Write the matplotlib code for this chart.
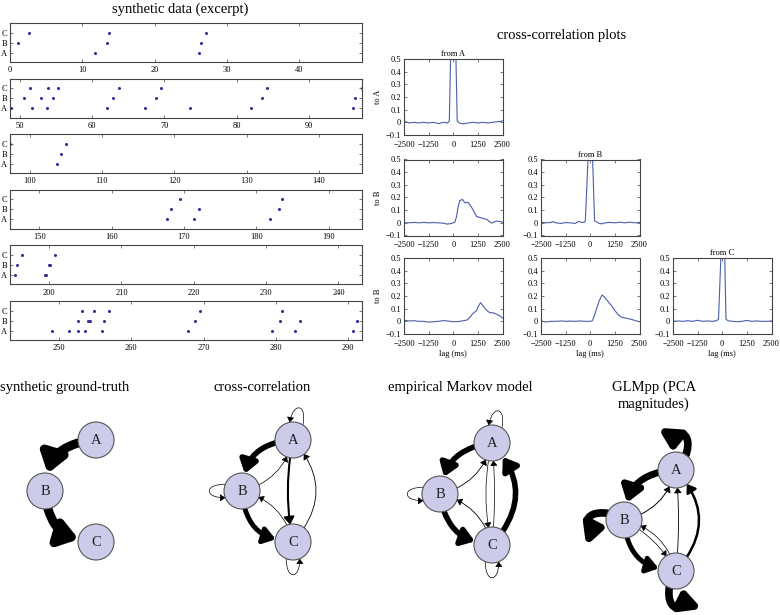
import numpy as np
import matplotlib
matplotlib.use('Agg')
import matplotlib.pyplot as plt
from matplotlib.patches import Circle, FancyArrowPatch, ArrowStyle
from matplotlib.path import Path

plt.rcParams['font.family'] = 'Liberation Serif'

# ---- spike raster (s) ----
win = 48.65
npanel = 6
spk_A = [11.8, 26.1, 48.8, 51.7, 53.75, 62.0, 67.3, 73.55, 82.0, 96.0, 103.8,
         167.7, 171.35, 181.9, 195.25, 199.5, 199.6, 249.0, 251.35, 252.65,
         253.55, 256.0, 267.9, 279.4, 282.7, 290.65]
spk_B = [1.15, 13.35, 26.45, 50.6, 53.0, 54.6, 62.9, 68.8, 83.45, 96.4, 104.4,
         168.2, 172.1, 183.1, 195.55, 200.0, 200.15, 252.7, 254.05, 254.35,
         256.3, 268.85, 280.6, 283.4, 291.2]
spk_C = [2.65, 13.7, 27.05, 51.35, 53.95, 55.25, 63.7, 69.5, 84.2, 97.35,
         105.05, 169.45, 183.6, 196.25, 200.85, 253.2, 254.85, 256.95, 269.5,
         280.9]
neurons = ['A', 'B', 'C']

# ---- cross-correlations (lag ms, value) ----
lag_AA = [-2500, -2250, -2000, -1750, -1500, -1250, -1000, -750, -500, -300,
          -200, -130, -60, 0, 60, 130, 200, 300, 500, 750, 1000, 1250, 1500,
          1750, 2000, 2250, 2500]
cc_AA = [0.01, -0.005, 0.0, -0.005, 0.0, -0.005, 0.0, -0.01, 0.0, -0.005,
         0.01, 0.55, 0.9, 1.0, 0.9, 0.55, 0.01, -0.005, -0.012, -0.005, 0.0,
         -0.005, 0.0, -0.005, 0.0, 0.005, 0.01]
lag_AB = [-2500, -2250, -2000, -1750, -1500, -1250, -1000, -750, -500, -300,
          -100, 0, 80, 160, 245, 330, 470, 560, 610, 700, 760, 900, 1050, 1180,
          1400, 1690, 1850, 1940, 2050, 2200, 2350, 2500]
cc_AB = [0.0, 0.0, 0.003, 0.0, 0.003, 0.0, 0.002, 0.0, -0.003, -0.01, -0.005,
         0.0, 0.005, 0.045, 0.125, 0.175, 0.185, 0.165, 0.157, 0.162, 0.16,
         0.13, 0.09, 0.05, 0.04, 0.027, 0.01, -0.002, 0.005, 0.014, 0.01, 0.005]
lag_BB = [-2500, -2250, -2000, -1900, -1750, -1500, -1250, -1000, -750, -600,
          -450, -300, -250, -100, -40, 0, 50, 110, 220, 300, 450, 600, 750,
          1000, 1250, 1500, 1750, 2000, 2250, 2500]
cc_BB = [0.005, 0.0, 0.003, 0.01, 0.0, -0.005, 0.002, 0.0, -0.005, 0.012,
         0.003, 0.005, 0.015, 0.55, 0.9, 1.0, 0.9, 0.55, 0.015, 0.01, -0.005,
         -0.008, 0.0, 0.003, 0.0, 0.005, 0.0, 0.005, 0.0, 0.003]
lag_AC = [-2500, -2250, -2000, -1750, -1500, -1250, -1000, -750, -500, -250, 0,
          250, 500, 700, 840, 1000, 1180, 1300, 1380, 1480, 1600, 1750, 1860,
          2000, 2110, 2280, 2400, 2500]
cc_AC = [0.008, 0.003, 0.005, 0.0, 0.0, -0.006, -0.003, 0.0, 0.006, 0.002,
         -0.003, -0.002, 0.005, 0.01, 0.03, 0.062, 0.084, 0.125, 0.147, 0.13,
         0.103, 0.08, 0.068, 0.068, 0.063, 0.05, 0.04, 0.025]
lag_BC = [-2500, -2250, -2000, -1750, -1500, -1250, -1000, -750, -500, -250, 0,
          110, 220, 330, 450, 600, 700, 840, 960, 1093, 1250, 1432, 1560, 1686,
          1900, 2100, 2300, 2500]
cc_BC = [0.003, -0.005, 0.0, 0.0, 0.003, 0.0, 0.002, 0.0, 0.003, 0.0, 0.0,
         0.005, 0.05, 0.103, 0.16, 0.208, 0.195, 0.168, 0.145, 0.121, 0.085,
         0.05, 0.035, 0.029, 0.022, 0.015, 0.005, -0.003]
lag_CC = [-2500, -2250, -2000, -1750, -1500, -1250, -1000, -750, -500, -300,
          -190, -60, -20, 30, 70, 120, 190, 300, 500, 750, 1000, 1250, 1500,
          1750, 2000, 2250, 2500]
cc_CC = [0.0, 0.003, 0.0, 0.005, 0.0, 0.008, 0.0, 0.003, 0.0, 0.005, 0.016,
         0.55, 0.9, 1.0, 0.9, 0.55, 0.016, 0.005, 0.0, -0.003, 0.0, 0.007, 0.0,
         0.003, 0.0, 0.0, 0.003]
# (row, col, lags, values, title, ylabel)
cc_panels = [(0, 0, lag_AA, cc_AA, 'from A', 'to A'),
             (1, 0, lag_AB, cc_AB, '', 'to B'),
             (1, 1, lag_BB, cc_BB, 'from B', ''),
             (2, 0, lag_AC, cc_AC, '', 'to B'),
             (2, 1, lag_BC, cc_BC, '', ''),
             (2, 2, lag_CC, cc_CC, 'from C', '')]

# ---- network graphs ----
net_titles = ['synthetic ground-truth', 'cross-correlation',
              'empirical Markov model', 'GLMpp (PCA\nmagnitudes)']
net_title_x = [65, 262, 460, 654]
node_x = [[96, 45, 96], [293, 242, 293], [492, 440, 492], [676, 624, 676]]
node_y = [[440, 491, 542], [440, 491, 542], [443, 494, 545], [470, 520, 571]]
# (from, to, width, curvature)
edges = [
    [(0, 1, 6.5, 0.45), (1, 2, 6.5, 0.45)],
    [(0, 1, 4.0, 0.45), (1, 2, 3.5, 0.45), (0, 2, 1.5, 0.1), (2, 0, 0.6, 0.45),
     (1, 0, 0.5, 0.3), (2, 1, 0.5, 0.3)],
    [(0, 1, 4.0, 0.4), (1, 2, 4.0, 0.4), (2, 0, 4.0, 0.45), (1, 0, 0.6, 0.3),
     (2, 1, 0.6, 0.3), (0, 2, 0.5, 0.12), (2, 0, 0.5, 0.05)],
    [(0, 1, 5.0, 0.45), (1, 2, 3.5, 0.45), (2, 0, 1.8, 0.45), (1, 0, 0.7, 0.3),
     (2, 0, 0.6, 0.05), (1, 2, 0.5, -0.15), (2, 1, 0.5, 0.3)],
]
# self loops: (node, width)
loops = [[],
         [(0, 0.5), (1, 0.5), (2, 0.5)],
         [(0, 0.5), (1, 0.5), (2, 0.5)],
         [(0, 5.5), (1, 5.5), (2, 5.5)]]
loop_dir = [(0.2, -1.0), (-1.0, 0.0), (0.0, 1.0)]

W, H = 780, 615
fig = plt.figure(figsize=(W / 100., H / 100.), dpi=100)

def px_axes(left, top, width, height):
    return fig.add_axes([left / W, 1 - (top + height) / H, width / W, height / H])

edgec = '#444444'

# raster
rtop = [23, 78.6, 134.2, 189.8, 245.4, 301]
for ii in range(npanel):
    ax = px_axes(10, rtop[ii], 352, 39)
    for jj, spk in enumerate([spk_A, spk_B, spk_C]):
        ax.plot(spk, np.full(len(spk), jj + 1), 'o', ms=2.2, color='#2e3192', mec='none')
    x0 = ii * win
    ax.set_xlim(x0, x0 + win)
    ax.set_ylim(0.05, 3.95)
    first = int(np.ceil(x0 / 10.)) * 10
    ax.set_xticks(np.arange(first, x0 + win, 10))
    ax.set_yticks([1, 2, 3])
    ax.set_yticklabels(neurons)
    ax.tick_params(direction='in', top=True, right=True, labelsize=6, length=2.5,
                   width=0.5, pad=2, color='#444444')
    ax.tick_params(axis='x', pad=3)
    for s in ax.spines.values():
        s.set_linewidth(0.8)
        s.set_color(edgec)
fig.text(180 / W, 1 - 9 / H, 'synthetic data (excerpt)', ha='center', va='center', fontsize=10.5)

# cross-correlations
ccol = [404, 541, 673]
crow = [59, 159.5, 258]
for row, col, lg, val, ttl, ylab in cc_panels:
    ax = px_axes(ccol[col], crow[row], 98.5, 76)
    ax.plot(lg, val, '-', color='#4b5dab', lw=0.8)
    ax.set_xlim(-2500, 2500)
    ax.set_ylim(-0.1, 0.5)
    ax.set_xticks([-2500, -1250, 0, 1250, 2500])
    ax.set_yticks([-0.1, 0, 0.1, 0.2, 0.3, 0.4, 0.5])
    ax.set_yticklabels(['\u22120.1', '0', '0.1', '0.2', '0.3', '0.4', '0.5'])
    ax.tick_params(direction='in', top=True, right=True, labelsize=6, length=2.5,
                   width=0.5, pad=2, color='#444444')
    ax.tick_params(axis='x', pad=4)
    for s in ax.spines.values():
        s.set_linewidth(0.8)
        s.set_color(edgec)
    if ttl:
        ax.set_title(ttl, fontsize=6, pad=2)
    if ylab:
        ax.set_ylabel(ylab, fontsize=6, labelpad=3)
    if row == 2:
        ax.set_xlabel('lag (ms)', fontsize=6, labelpad=2)
fig.text(562 / W, 1 - 35 / H, 'cross-correlation plots', ha='center', va='center', fontsize=10.5)

# networks
axn = px_axes(0, 370, 780, 245)
axn.set_xlim(0, 780)
axn.set_ylim(615, 370)
axn.axis('off')
rnode = 18
head = ArrowStyle('-|>', head_length=0.5, head_width=0.35)
for k in range(4):
    axn.text(net_title_x[k], 381, net_titles[k], ha='center', va='top',
             fontsize=10.5, linespacing=1.25)
    circs = []
    for n in range(3):
        c = Circle((node_x[k][n], node_y[k][n]), rnode, fc='#ccccea', ec='#555555',
                   lw=0.8, zorder=3)
        axn.add_patch(c)
        circs.append(c)
        axn.text(node_x[k][n], node_y[k][n] + 1, neurons[n], ha='center', va='center',
                 fontsize=10.5, color='#222222', zorder=4)
    for a, b, w, rad in edges[k]:
        arr = FancyArrowPatch((node_x[k][a], node_y[k][a]), (node_x[k][b], node_y[k][b]),
                              patchA=circs[a], patchB=circs[b], shrinkA=0, shrinkB=0,
                              connectionstyle='arc3,rad=%.2f' % rad, arrowstyle=head,
                              mutation_scale=5 + 2.5 * w, lw=w, color='k',
                              joinstyle='round', capstyle='round', zorder=2)
        axn.add_patch(arr)
    for n, w in loops[k]:
        ux, uy = loop_dir[n]
        nrm = np.hypot(ux, uy)
        ux, uy = ux / nrm, uy / nrm
        px, py = -uy, ux
        cx, cy = node_x[k][n], node_y[k][n]
        d = np.radians(22)
        L = 20 if w < 2 else 24
        sw = 7 if w < 2 else 10
        p0 = (cx + rnode * (ux * np.cos(d) + px * np.sin(d)), cy + rnode * (uy * np.cos(d) + py * np.sin(d)))
        p1 = (cx + (rnode + L) * ux + sw * px, cy + (rnode + L) * uy + sw * py)
        p2 = (cx + (rnode + L) * ux - sw * px, cy + (rnode + L) * uy - sw * py)
        p3 = (cx + rnode * (ux * np.cos(d) - px * np.sin(d)), cy + rnode * (uy * np.cos(d) - py * np.sin(d)))
        pth = Path([p0, p1, p2, p3], [Path.MOVETO, Path.CURVE4, Path.CURVE4, Path.CURVE4])
        arr = FancyArrowPatch(path=pth, arrowstyle=head, mutation_scale=5 + 2.5 * w,
                              lw=w, color='k', joinstyle='round', capstyle='round', zorder=2)
        axn.add_patch(arr)

fig.savefig('out.png', dpi=100)
